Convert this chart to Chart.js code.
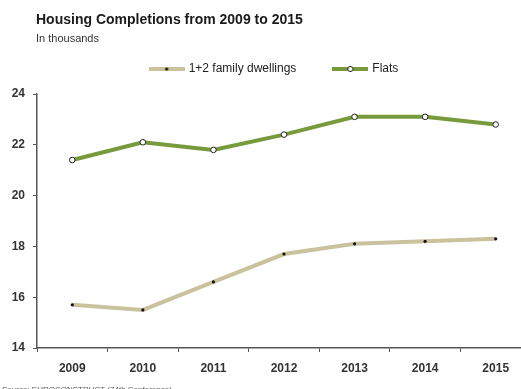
<!DOCTYPE html>
<html>
<head>
<meta charset="utf-8">
<script src="https://cdn.jsdelivr.net/npm/chart.js@4.4.1/dist/chart.umd.min.js"></script>
<style>
  html, body { margin: 0; padding: 0; background: #fff; overflow: hidden; }
  #wrap { position: relative; width: 521px; height: 389px; overflow: hidden; }
  #wrap canvas { position: absolute; left: 0; top: 0; }
</style>
</head>
<body>
<div id="wrap"><canvas id="chart" width="540" height="389"></canvas></div>
<script>
const years = ['2009', '2010', '2011', '2012', '2013', '2014', '2015'];
const dwellings = [15.7, 15.5, 16.6, 17.7, 18.1, 18.2, 18.3];
const flats = [21.4, 22.1, 21.8, 22.4, 23.1, 23.1, 22.8];
const yTicks = [14, 16, 18, 20, 22, 24];

const FONT = '"Liberation Sans", Arial, sans-serif';
const BEIGE = '#c9c29d';
const GREEN = '#779a3c';

// legend swatch: a short thick line with the point marker in the middle
function swatch(color, dotFill, dotStroke, r) {
  const c = document.createElement('canvas');
  c.width = 36; c.height = 8;
  const g = c.getContext('2d');
  g.strokeStyle = color; g.lineWidth = 4;
  g.beginPath(); g.moveTo(0, 4); g.lineTo(36, 4); g.stroke();
  g.beginPath(); g.arc(18, 4, r, 0, Math.PI * 2);
  g.fillStyle = dotFill; g.fill();
  if (dotStroke) { g.strokeStyle = dotStroke; g.lineWidth = 1; g.stroke(); }
  return c;
}
const swatches = [swatch(BEIGE, '#111', null, 1.6), swatch(GREEN, '#fff', '#222', 2.6)];

// extra room under the legend, and draw it a little to the right
const legendTweak = {
  id: 'legendTweak',
  beforeInit(chart) {
    const legend = chart.legend;
    const fit = legend.fit;
    legend.fit = function () {
      fit.call(this);
      this.height += 9;
    };
    const draw = legend.draw;
    legend.draw = function () {
      const ctx = this.ctx;
      ctx.save();
      ctx.translate(9, 0);
      draw.apply(this, arguments);
      ctx.restore();
    };
  }
};

const textPlugin = {
  id: 'texts',
  afterDraw(chart) {
    const ctx = chart.ctx;
    ctx.save();
    ctx.textBaseline = 'alphabetic';
    ctx.textAlign = 'left';
    ctx.fillStyle = '#1a1a1a';
    ctx.font = 'bold 14px ' + FONT;
    ctx.fillText('Housing Completions from 2009 to 2015', 36, 24);
    ctx.fillStyle = '#333';
    ctx.font = '11px ' + FONT;
    ctx.fillText('In thousands', 36, 42);
    ctx.fillStyle = '#555';
    ctx.font = '8px ' + FONT;
    ctx.fillText('Source: EUROCONSTRUCT (74th Conference)', 2, 392);
    ctx.restore();
  }
};

new Chart(document.getElementById('chart'), {
  type: 'line',
  data: {
    labels: years,
    datasets: [
      {
        label: '1+2 family dwellings',
        data: dwellings,
        borderColor: BEIGE,
        borderWidth: 4,
        pointRadius: 1.6,
        pointBackgroundColor: '#111',
        pointBorderColor: '#111',
        pointBorderWidth: 0,
        tension: 0
      },
      {
        label: 'Flats',
        data: flats,
        borderColor: GREEN,
        borderWidth: 4,
        pointRadius: 2.8,
        pointBackgroundColor: '#fff',
        pointBorderColor: '#222',
        pointBorderWidth: 1,
        tension: 0
      }
    ]
  },
  options: {
    responsive: false,
    animation: false,
    layout: { padding: { top: 25, left: 0, right: 9, bottom: 13 } },
    plugins: {
      tooltip: { enabled: false },
      legend: {
        position: 'top',
        labels: {
          usePointStyle: true,
          pointStyleWidth: 32,
          boxHeight: 8,
          padding: 38,
          color: '#222',
          font: { family: FONT, size: 12 },
          generateLabels(chart) {
            const items = Chart.defaults.plugins.legend.labels.generateLabels(chart);
            items.forEach((it, i) => { it.pointStyle = swatches[i]; });
            return items;
          }
        }
      }
    },
    scales: {
      x: {
        offset: true,
        afterFit(s) { s.height = 28; },
        border: { color: '#555', width: 1.5 },
        grid: { display: true, drawOnChartArea: false, offset: true, tickLength: 4, color: '#555' },
        ticks: { color: '#333', padding: 9, font: { family: FONT, size: 12, weight: 'bold' } }
      },
      y: {
        min: 14,
        max: 24,
        afterFit(s) { s.width = 37; },
        afterBuildTicks(s) { s.ticks = yTicks.map(v => ({ value: v })); },
        border: { color: '#555', width: 1.5 },
        grid: { display: true, drawOnChartArea: false, tickLength: 4, color: '#555' },
        ticks: { color: '#333', padding: 8, font: { family: FONT, size: 12, weight: 'bold' } }
      }
    }
  },
  plugins: [legendTweak, textPlugin]
});
</script>
</body>
</html>
